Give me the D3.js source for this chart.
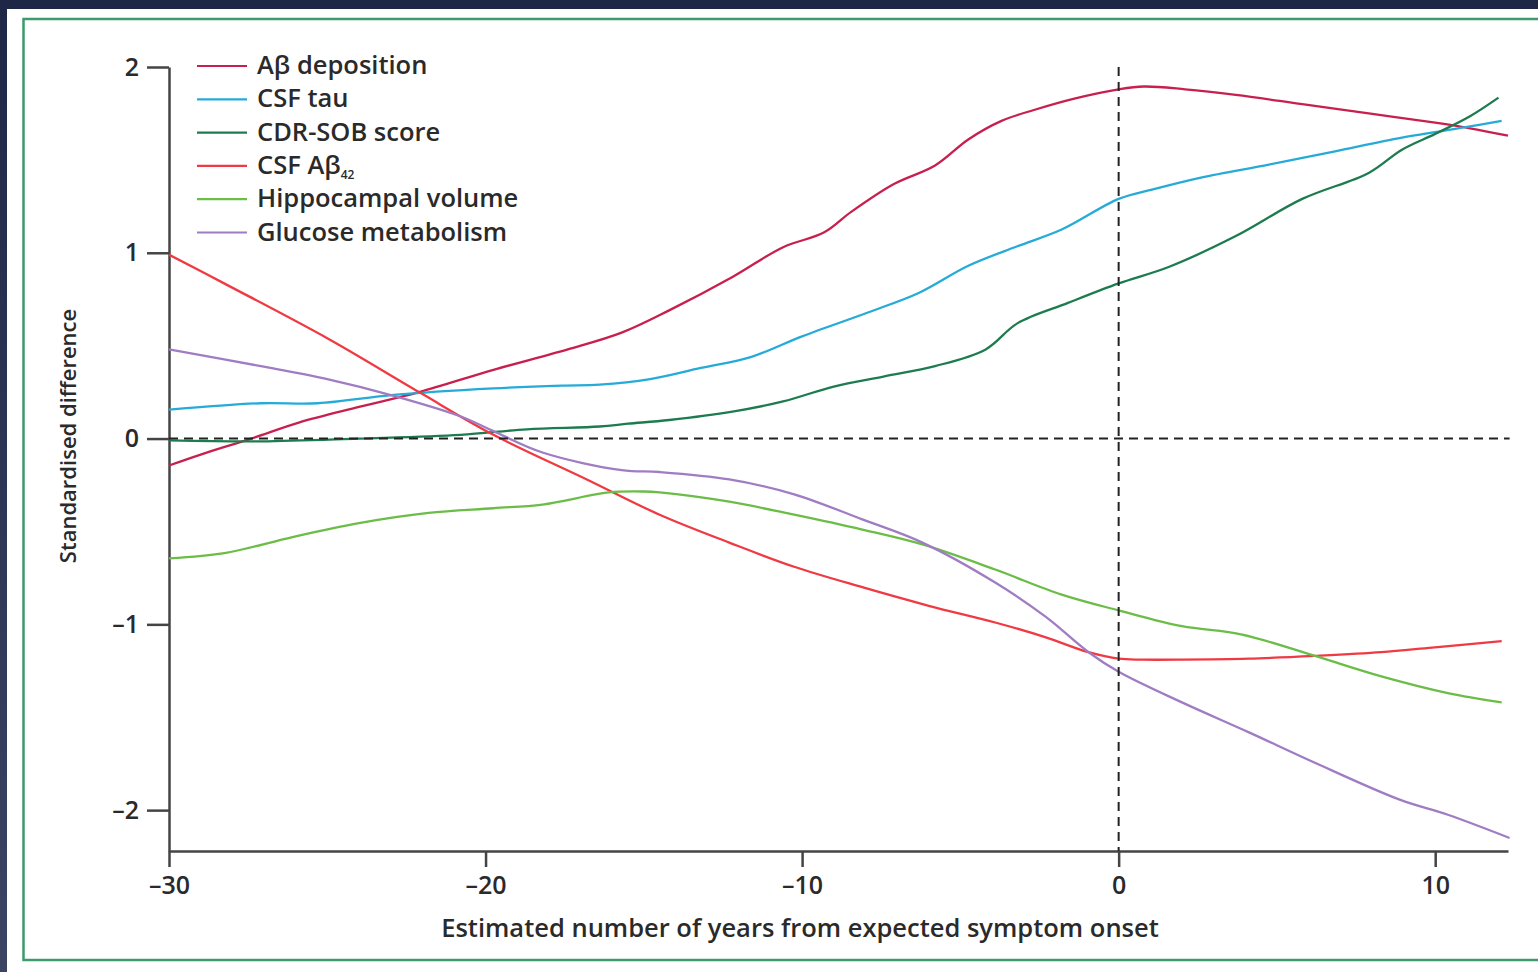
<!DOCTYPE html>
<html>
<head>
<meta charset="utf-8">
<script src="https://cdn.jsdelivr.net/npm/d3@7"></script>
<style>
  body { margin: 0; background: #fff; }
  svg { display: block; font-family: "Open Sans", "Noto Sans", sans-serif; font-weight: 600; }
</style>
</head>
<body>
<svg width="1538" height="972"></svg>
<script>
// data: [years from expected onset, standardised difference]
var abDeposition = [[-30, -0.145], [-29, -0.086], [-27.4, 0.0], [-25.9, 0.086], [-24, 0.17], [-22.1, 0.25],
  [-19.75, 0.37], [-17.4, 0.48], [-15.7, 0.57], [-14.2, 0.69], [-12.2, 0.87], [-10.6, 1.03], [-9.3, 1.11],
  [-8.45, 1.22], [-7.1, 1.37], [-5.8, 1.47], [-4.75, 1.61], [-3.7, 1.71], [-2.65, 1.77], [-1.4, 1.83],
  [0, 1.88], [0.8, 1.895], [2.1, 1.88], [3.7, 1.85], [5.8, 1.80], [7.9, 1.75], [10.0, 1.70], [11.1, 1.67], [12.3, 1.63]];
var csfTau = [[-30, 0.156], [-27.1, 0.19], [-25.3, 0.19], [-22.9, 0.235], [-19.75, 0.27], [-17.6, 0.285],
  [-16.4, 0.29], [-14.8, 0.32], [-13.2, 0.38], [-11.6, 0.44], [-10.0, 0.55], [-7.9, 0.68], [-6.3, 0.785],
  [-4.75, 0.93], [-3.2, 1.035], [-1.8, 1.125], [0, 1.29], [1.05, 1.34], [2.6, 1.405], [4.75, 1.475],
  [6.8, 1.545], [8.95, 1.62], [11.1, 1.68], [12.1, 1.71]];
var cdrSob = [[-30, -0.01], [-27.1, -0.015], [-24, 0], [-20.8, 0.02], [-18.7, 0.05], [-16.4, 0.065],
  [-15.5, 0.08], [-14.2, 0.10], [-12.2, 0.145], [-10.6, 0.20], [-9.0, 0.28], [-7.4, 0.335], [-5.8, 0.39],
  [-4.2, 0.48], [-3.2, 0.62], [-1.6, 0.73], [0, 0.835], [1.6, 0.925], [3.7, 1.09], [5.8, 1.29], [7.9, 1.43],
  [8.95, 1.555], [10.0, 1.64], [11.1, 1.735], [12.0, 1.835]];
var csfAb42 = [[-30, 0.99], [-28.2, 0.83], [-25.0, 0.54], [-22.1, 0.25], [-19.75, 0.02], [-16.8, -0.22],
  [-14.5, -0.41], [-12.3, -0.56], [-10.25, -0.69], [-8.1, -0.80], [-6.0, -0.90], [-3.9, -0.99], [-2.3, -1.07],
  [-0.95, -1.15], [0, -1.185], [0.73, -1.19], [2.0, -1.19], [4.1, -1.185], [6.2, -1.17], [8.3, -1.15],
  [9.9, -1.125], [12.1, -1.09]];
var hippocampal = [[-30, -0.645], [-28.2, -0.615], [-26.1, -0.53], [-24, -0.455], [-21.8, -0.40],
  [-19.75, -0.375], [-18.2, -0.355], [-16.1, -0.29], [-15.0, -0.285], [-14.5, -0.29], [-12.3, -0.34],
  [-10.25, -0.41], [-8.1, -0.49], [-6.2, -0.57], [-3.9, -0.705], [-1.8, -0.84], [0, -0.925], [2.0, -1.01],
  [3.9, -1.055], [6.2, -1.17], [8.3, -1.28], [10.4, -1.37], [12.1, -1.42]];
var glucose = [[-30, 0.48], [-27.1, 0.39], [-25.0, 0.32], [-22.9, 0.23], [-20.8, 0.12], [-19.75, 0.04],
  [-18.2, -0.075], [-15.7, -0.17], [-14.5, -0.18], [-12.3, -0.22], [-10.25, -0.30],
  [-8.1, -0.435], [-6.2, -0.56], [-3.9, -0.775], [-2.3, -0.96], [-0.95, -1.15], [0, -1.255], [2.0, -1.42],
  [4.1, -1.58], [6.2, -1.745], [8.9, -1.945], [10.4, -2.025], [12.35, -2.15]];

var seriesNames = ["Aβ deposition", "CSF tau", "CDR-SOB score", "CSF Aβ", "Hippocampal volume", "Glucose metabolism"];
var seriesColors = ["#c8204e", "#26abd9", "#1d7c4f", "#f03a43", "#6bbd47", "#a07cc3"];
var seriesData = [abDeposition, csfTau, cdrSob, csfAb42, hippocampal, glucose];
var xTicks = [-30, -20, -10, 0, 10];
var yTicks = [-2, -1, 0, 1, 2];

// setup ======================================================
var svg = d3.select("svg");
var ink = "#2a2a2a";

// frame
svg.append("rect").attr("x", 0).attr("y", 0).attr("width", 1538).attr("height", 9).attr("fill", "#1e2745");
var grad = svg.append("defs").append("linearGradient").attr("id", "side")
  .attr("x1", 0).attr("y1", 0).attr("x2", 0).attr("y2", 1);
grad.append("stop").attr("offset", "0").attr("stop-color", "#1e2745");
grad.append("stop").attr("offset", "1").attr("stop-color", "#3b4563");
svg.append("rect").attr("x", 0).attr("y", 0).attr("width", 7).attr("height", 972).attr("fill", "url(#side)");
svg.append("rect").attr("x", 23.5).attr("y", 19).attr("width", 1530).attr("height", 941)
  .attr("fill", "none").attr("stroke", "#3c9a6c").attr("stroke-width", 2.5);

var x = d3.scaleLinear().domain([-30, 12.3]).range([169, 1508]);
var y = d3.scaleLinear().domain([-2.22, 2]).range([851, 67]);

function fmt(d) { return d < 0 ? "\u2013" + Math.abs(d) : String(d); }

// axes
var gx = svg.append("g").attr("transform", "translate(0,851)")
  .call(d3.axisBottom(x).tickValues(xTicks).tickSize(16).tickSizeOuter(0).tickPadding(9).tickFormat(fmt));
var gy = svg.append("g").attr("transform", "translate(169,0)")
  .call(d3.axisLeft(y).tickValues(yTicks).tickSize(22).tickSizeOuter(0).tickPadding(8).tickFormat(fmt));
[gx, gy].forEach(function(g) {
  g.select(".domain").attr("stroke", "#444").attr("stroke-width", 2.5);
  g.selectAll(".tick line").attr("stroke", "#444").attr("stroke-width", 2.5);
  g.selectAll(".tick text").attr("fill", ink).style("font-size", "25px")
    .style("font-family", "Open Sans").style("font-weight", "600");
});

// curves
var line = d3.line()
  .x(function(d) { return x(d[0]); })
  .y(function(d) { return y(d[1]); })
  .curve(d3.curveCatmullRom.alpha(0.5));

seriesData.forEach(function(data, i) {
  svg.append("path").datum(data)
    .attr("d", line)
    .attr("fill", "none")
    .attr("stroke", seriesColors[i])
    .attr("stroke-width", 2.3);
});

// reference lines, drawn on top of the curves
svg.append("line").attr("x1", x(-30)).attr("x2", x(12.35)).attr("y1", y(0)).attr("y2", y(0))
  .attr("stroke", "#222").attr("stroke-width", 2).attr("stroke-dasharray", "9,6");
svg.append("line").attr("x1", x(0)).attr("x2", x(0)).attr("y1", y(2)).attr("y2", 851)
  .attr("stroke", "#222").attr("stroke-width", 2).attr("stroke-dasharray", "9,6");

// legend
var legend = svg.append("g").attr("class", "legend");
seriesNames.forEach(function(name, i) {
  var cy = 65 + i * 33.3;
  legend.append("line").attr("x1", 197).attr("x2", 247).attr("y1", cy + 1).attr("y2", cy + 1)
    .attr("stroke", seriesColors[i]).attr("stroke-width", 2.2);
  var t = legend.append("text").attr("x", 257).attr("y", cy).attr("dy", "0.36em")
    .attr("fill", ink).style("font-size", "25.5px").text(name);
  if (i == 3) {
    t.append("tspan").attr("dy", "5").style("font-size", "12px").text("42");
  }
});

// axis titles
svg.append("text").attr("x", 800).attr("y", 937).attr("text-anchor", "middle")
  .attr("fill", ink).style("font-size", "25.5px")
  .text("Estimated number of years from expected symptom onset");
svg.append("text").attr("transform", "translate(76,436) rotate(-90)").attr("text-anchor", "middle")
  .attr("fill", ink).style("font-size", "22px")
  .text("Standardised difference");
</script>
</body>
</html>
